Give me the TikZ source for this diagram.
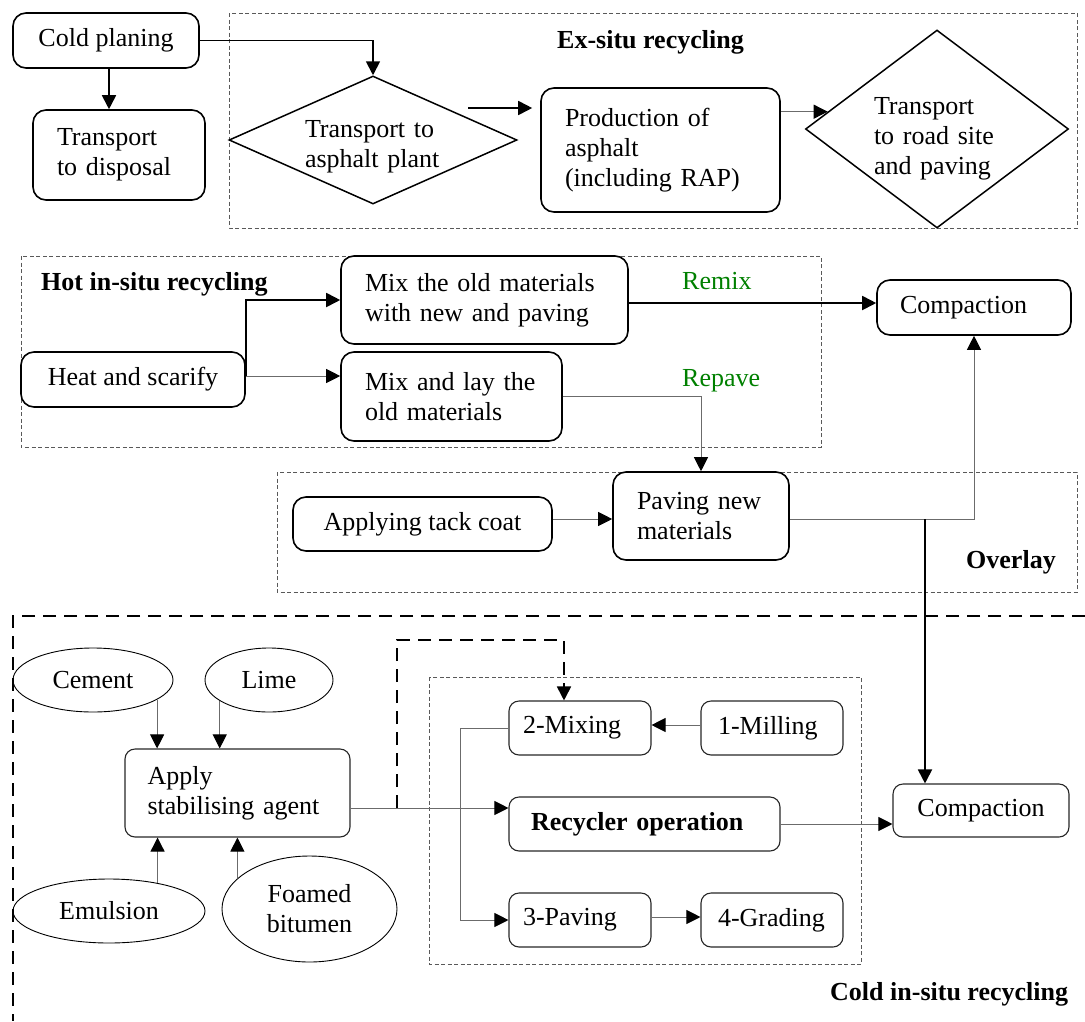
\documentclass[tikz,border=0pt]{standalone}
\usepackage{fontspec}
\setmainfont{Liberation Serif}
\usetikzlibrary{arrows.meta,shapes.geometric,calc}
\definecolor{linegray}{gray}{0.42}
\definecolor{labelgreen}{RGB}{0,128,0}
\begin{document}
\begin{tikzpicture}[x=1pt,y=-1pt,
  every node/.style={font=\fontsize{26}{30}\selectfont},
  boldbox/.style={draw, line width=1.6pt, rounded corners=13pt, inner sep=0pt},
  thinbox/.style={draw=black!85, line width=1.1pt, rounded corners=10pt, inner sep=0pt},
  dia/.style={draw, diamond, line width=1.5pt, inner sep=0pt},
  oval/.style={draw, ellipse, line width=0.9pt, inner sep=0pt},
  group/.style={draw=black!65, dash pattern=on 4pt off 2.5pt, line width=0.9pt},
  bigdash/.style={draw, line width=1.8pt, dash pattern=on 13pt off 8pt},
  arrowed/.style={-{Triangle[length=14pt,width=14pt,color=black]}},
  heavy/.style={arrowed, line width=1.8pt},
  light/.style={arrowed, draw=linegray, line width=1pt},
  grouplabel/.style={font=\fontsize{26}{30}\selectfont\bfseries, anchor=base west, inner sep=0pt},
  greenlabel/.style={anchor=base west, inner sep=0pt, text=labelgreen},
  ]
\useasboundingbox (0,0) rectangle (1085,1021);

% group frames
\draw[group] (229,13) rectangle (1077,228);
\draw[group] (21,256) rectangle (821,447);
\draw[group] (277,472) rectangle (1077,592);
\draw[group] (429,677) rectangle (861,964);
\draw[bigdash] (1085,616) -- (13,616) -- (13,1021);

% group titles
\node[grouplabel] (exlabel) at (557,48) {Ex-situ recycling};
\node[grouplabel] (hotlabel) at (41,290) {Hot in-situ recycling};
\node[grouplabel] (ovlabel) at (966,568) {Overlay};
\node[grouplabel] (coldlabel) at (830,1000) {Cold in-situ recycling};
\node[greenlabel] (remix) at (682,289) {Remix};
\node[greenlabel] (repave) at (682,386) {Repave};

% ex-situ recycling
\node[boldbox, minimum width=186pt, minimum height=55pt] (coldplan) at (106,40.5) {Cold planing};
\node[boldbox, minimum height=90pt, text width=124pt, inner xsep=24pt, align=left] (disposal) at (119,155) {Transport\\to disposal};
\node[dia, aspect=2.25, minimum width=288pt, minimum height=128pt, text width=136pt, align=left] (d1) at (373,140) {\rule{0pt}{30pt}Transport to\\asphalt plant};
\node[boldbox, minimum height=124pt, text width=191pt, inner xsep=24pt, align=left] (prod) at (660.5,150) {Production of\\asphalt\\(including RAP)};
\node[dia, aspect=1.33, minimum width=263pt, minimum height=198pt, text width=126pt, align=left] (d2) at (937,129) {\rule{0pt}{36pt}Transport\\to road site\\and paving};

% hot in-situ recycling
\node[boldbox, minimum width=224pt, minimum height=55pt] (heat) at (133,379.5) {Heat and scarify};
\node[boldbox, minimum height=88pt, text width=239pt, inner xsep=24pt, align=left] (mix1) at (484.5,300) {Mix the old materials\\with new and paving};
\node[boldbox, minimum height=89pt, text width=173pt, inner xsep=24pt, align=left] (mix2) at (451.5,396.5) {Mix and lay the\\old materials};
\node[boldbox, minimum height=55pt, text width=148pt, inner xsep=23pt, align=left] (comp1) at (974,307.5) {Compaction};

% overlay
\node[boldbox, minimum width=259pt, minimum height=54pt] (tack) at (422.5,524) {Applying tack coat};
\node[boldbox, minimum height=88pt, text width=128pt, inner xsep=24pt, align=left] (paving) at (701,516) {Paving new\\materials};

% cold in-situ recycling
\node[oval, minimum width=160pt, minimum height=64pt] (cement) at (93,680) {Cement};
\node[oval, minimum width=128pt, minimum height=64pt] (lime) at (269,680) {Lime};
\node[oval, minimum width=192pt, minimum height=64pt] (emul) at (109,911) {Emulsion};
\node[oval, minimum width=175pt, minimum height=106pt, align=center] (foam) at (309.5,909) {Foamed\\bitumen};
\node[thinbox, minimum height=88pt, text width=180pt, inner xsep=22.5pt, align=left] (apply) at (237.5,793) {Apply\\stabilising agent};
\node[thinbox, minimum height=54pt, text width=114pt, inner xsep=14pt, align=left] (mixing) at (580,728) {2-Mixing};
\node[thinbox, minimum height=54pt, text width=108pt, inner xsep=17pt, align=left] (milling) at (772,728) {1-Milling};
\node[thinbox, minimum height=54pt, text width=227pt, inner xsep=22pt, align=left, font=\fontsize{26}{30}\selectfont\bfseries] (recyc) at (644.5,824) {Recycler operation};
\node[thinbox, minimum height=54pt, text width=114pt, inner xsep=14pt, align=left] (paving3) at (580,920) {3-Paving};
\node[thinbox, minimum height=54pt, text width=108pt, inner xsep=17pt, align=left] (grading) at (772,920) {4-Grading};
\node[thinbox, minimum width=176pt, minimum height=53pt] (comp2) at (981,810.5) {Compaction};

% connectors: ex-situ
\draw[heavy] ([xshift=3pt]coldplan.south) -- ([xshift=3pt]coldplan.south |- disposal.north);
\draw[heavy] (coldplan.east) -| (d1.north);
\coordinate (d1out) at (468,108);
\draw[heavy, shorten >=8pt] (d1out) -- (d1out -| prod.west);
\draw[light] (prod.east |- d2.171) -- (d2.171);

% connectors: hot in-situ
\draw[heavy] ([yshift=3.5pt]heat.east) |- (mix1.west);
\draw[light] ([yshift=3.5pt]heat.east) -- ([yshift=3.5pt]heat.east -| mix2.west);
\draw[heavy] ([yshift=-3pt]mix1.east) -- ([yshift=-3pt]mix1.east -| comp1.west);
\draw[light] (mix2.east) -| (paving.north);

% connectors: overlay
\draw[light] ([yshift=5pt]tack.east) -- ([yshift=5pt]tack.east -| paving.west);
\draw[light] ([yshift=-3pt]paving.east) -| (comp1.south);
\coordinate (jn) at (925,519);
\draw[heavy] (jn) -- (jn |- comp2.north);

% connectors: cold in-situ
\draw[light] (cement.343.3) -- (cement.343.3 |- apply.north);
\draw[light] (lime.203.8) -- (lime.203.8 |- apply.north);
\draw[light] (emul.30) -- (emul.30 |- apply.south);
\draw[light] (foam.157.8) -- (foam.157.8 |- apply.south);
\draw[light] ([yshift=-15pt]apply.east) -- ([yshift=-15pt]apply.east -| recyc.west);
\coordinate (br) at (397,808);
\coordinate (brtop) at (397,640);
\draw[bigdash, arrowed] (br) -- (brtop) -| ([xshift=-16pt]mixing.north);
\draw[light] ([yshift=3pt]milling.west) -- ([yshift=3pt]milling.west -| mixing.east);
\draw[light] (mixing.west) -- ++(-48,0) |- (paving3.west);
\draw[light] ([yshift=3pt]paving3.east) -- ([yshift=3pt]paving3.east -| grading.west);
\draw[light] (recyc.east) -- (recyc.east -| comp2.west);
\end{tikzpicture}
\end{document}
